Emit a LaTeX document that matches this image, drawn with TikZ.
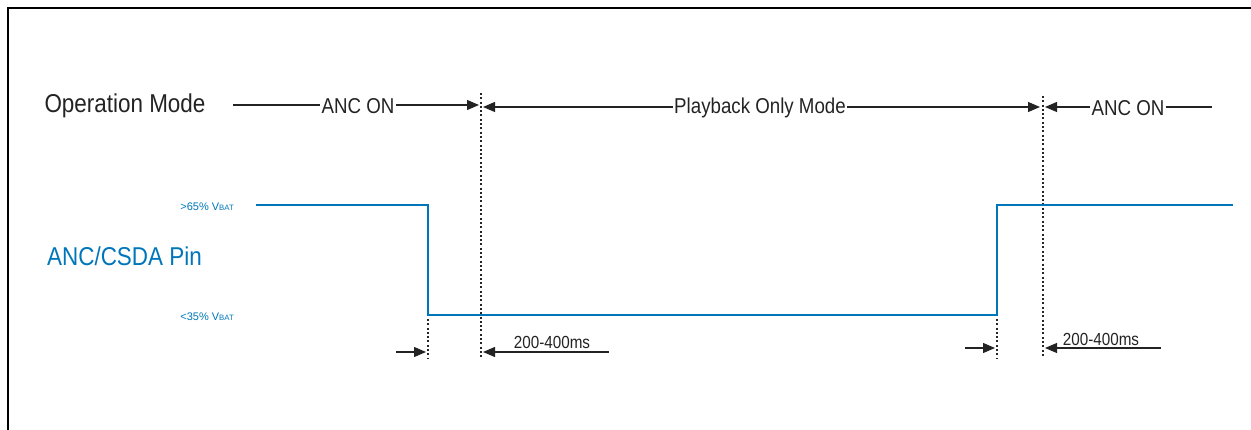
\documentclass[tikz,border=0pt]{standalone}
\usepackage{fontspec}
\setmainfont{Liberation Sans}
\newfontfamily\narfont[FakeStretch=0.87]{Liberation Sans}
\usetikzlibrary{arrows.meta}
\definecolor{sigblue}{RGB}{0,118,186}
\definecolor{ink}{RGB}{35,35,35}
\begin{document}
\begin{tikzpicture}[x=1pt,y=-1pt,
  frameline/.style={line width=2.2pt,draw=black},
  lbl/.style={inner sep=1pt,text=ink},
  bigfont/.style={font=\narfont\fontsize{25.8}{25.8}\selectfont},
  modefont/.style={font=\narfont\fontsize{21.5}{21.5}\selectfont},
  msfont/.style={font=\narfont\fontsize{17.5}{17.5}\selectfont},
  lvlfont/.style={font=\fontsize{11}{11}\selectfont,text=sigblue,inner sep=0pt},
  plainline/.style={line width=1.1pt,draw=ink},
  arr/.style={plainline,-{Triangle[length=12pt,width=10pt]}},
  dotline/.style={line width=2.3pt,draw=black!85,dash pattern=on 2pt off 2.3pt},
  sigline/.style={line width=2pt,draw=sigblue}]
\useasboundingbox (0,0) rectangle (1251,430);
% frame
\draw[frameline] (8,430) -- (8,8) -- (1251,8);
% operation mode row
\node[lbl,bigfont] (opmode) at (125,106) {Operation Mode};
\coordinate (a1start) at (233,105);
\node[lbl,modefont] (anc1) at (358,106) {ANC ON};
\coordinate (tip1) at (479,105);
\draw[plainline] (a1start) -- (a1start -| anc1.west);
\draw[arr] (tip1 -| anc1.east) -- (tip1);
\node[lbl,modefont] (pb) at (760,108) {Playback Only Mode};
\coordinate (tip2) at (483,107);
\coordinate (tip3) at (1040,107);
\draw[arr] (tip2 -| pb.west) -- (tip2);
\draw[arr] (tip3 -| pb.east) -- (tip3);
\node[lbl,modefont] (anc2) at (1128,108) {ANC ON};
\coordinate (tip4) at (1045,107);
\coordinate (a2end) at (1212,107);
\draw[arr] (tip4 -| anc2.west) -- (tip4);
\draw[plainline] (a2end -| anc2.east) -- (a2end);
% dotted markers
\coordinate (d1t) at (481,93);  \coordinate (d1b) at (481,358);
\coordinate (d2t) at (1043,96); \coordinate (d2b) at (1043,358);
\coordinate (d3t) at (428,319); \coordinate (d3b) at (428,358);
\coordinate (d4t) at (997,319); \coordinate (d4b) at (997,358);
\draw[dotline] (d1t) -- (d1b);
\draw[dotline] (d2t) -- (d2b);
\draw[dotline] (d3t) -- (d3b);
\draw[dotline] (d4t) -- (d4b);
% signal
\node[lbl,bigfont,text=sigblue] (pin) at (124.5,256) {ANC/CSDA Pin};
\node[lvlfont,anchor=east] (hi) at (234,207) {>65\% V{\fontsize{7.8}{7.8}\selectfont BAT}};
\node[lvlfont,anchor=east] (lo) at (234,317) {<35\% V{\fontsize{7.8}{7.8}\selectfont BAT}};
\coordinate (s0) at (256,205);
\coordinate (s1) at (428,205);
\coordinate (s2) at (428,315);
\coordinate (s3) at (997,315);
\coordinate (s4) at (997,205);
\coordinate (s5) at (1233,205);
\draw[sigline] (s0) -- (s1) -- (s2) -- (s3) -- (s4) -- (s5);
% timing arrows
\coordinate (b1s) at (396,352); \coordinate (b1e) at (426,352);
\coordinate (b2s) at (609,352); \coordinate (b2e) at (483,352);
\draw[arr] (b1s) -- (b1e);
\draw[arr] (b2s) -- (b2e);
\node[lbl,msfont] (ms1) at (552,342) {200-400ms};
\coordinate (b3s) at (965,348); \coordinate (b3e) at (995,348);
\coordinate (b4s) at (1161,348); \coordinate (b4e) at (1045,348);
\draw[arr] (b3s) -- (b3e);
\draw[arr] (b4s) -- (b4e);
\node[lbl,msfont] (ms2) at (1101,339) {200-400ms};
\end{tikzpicture}
\end{document}
